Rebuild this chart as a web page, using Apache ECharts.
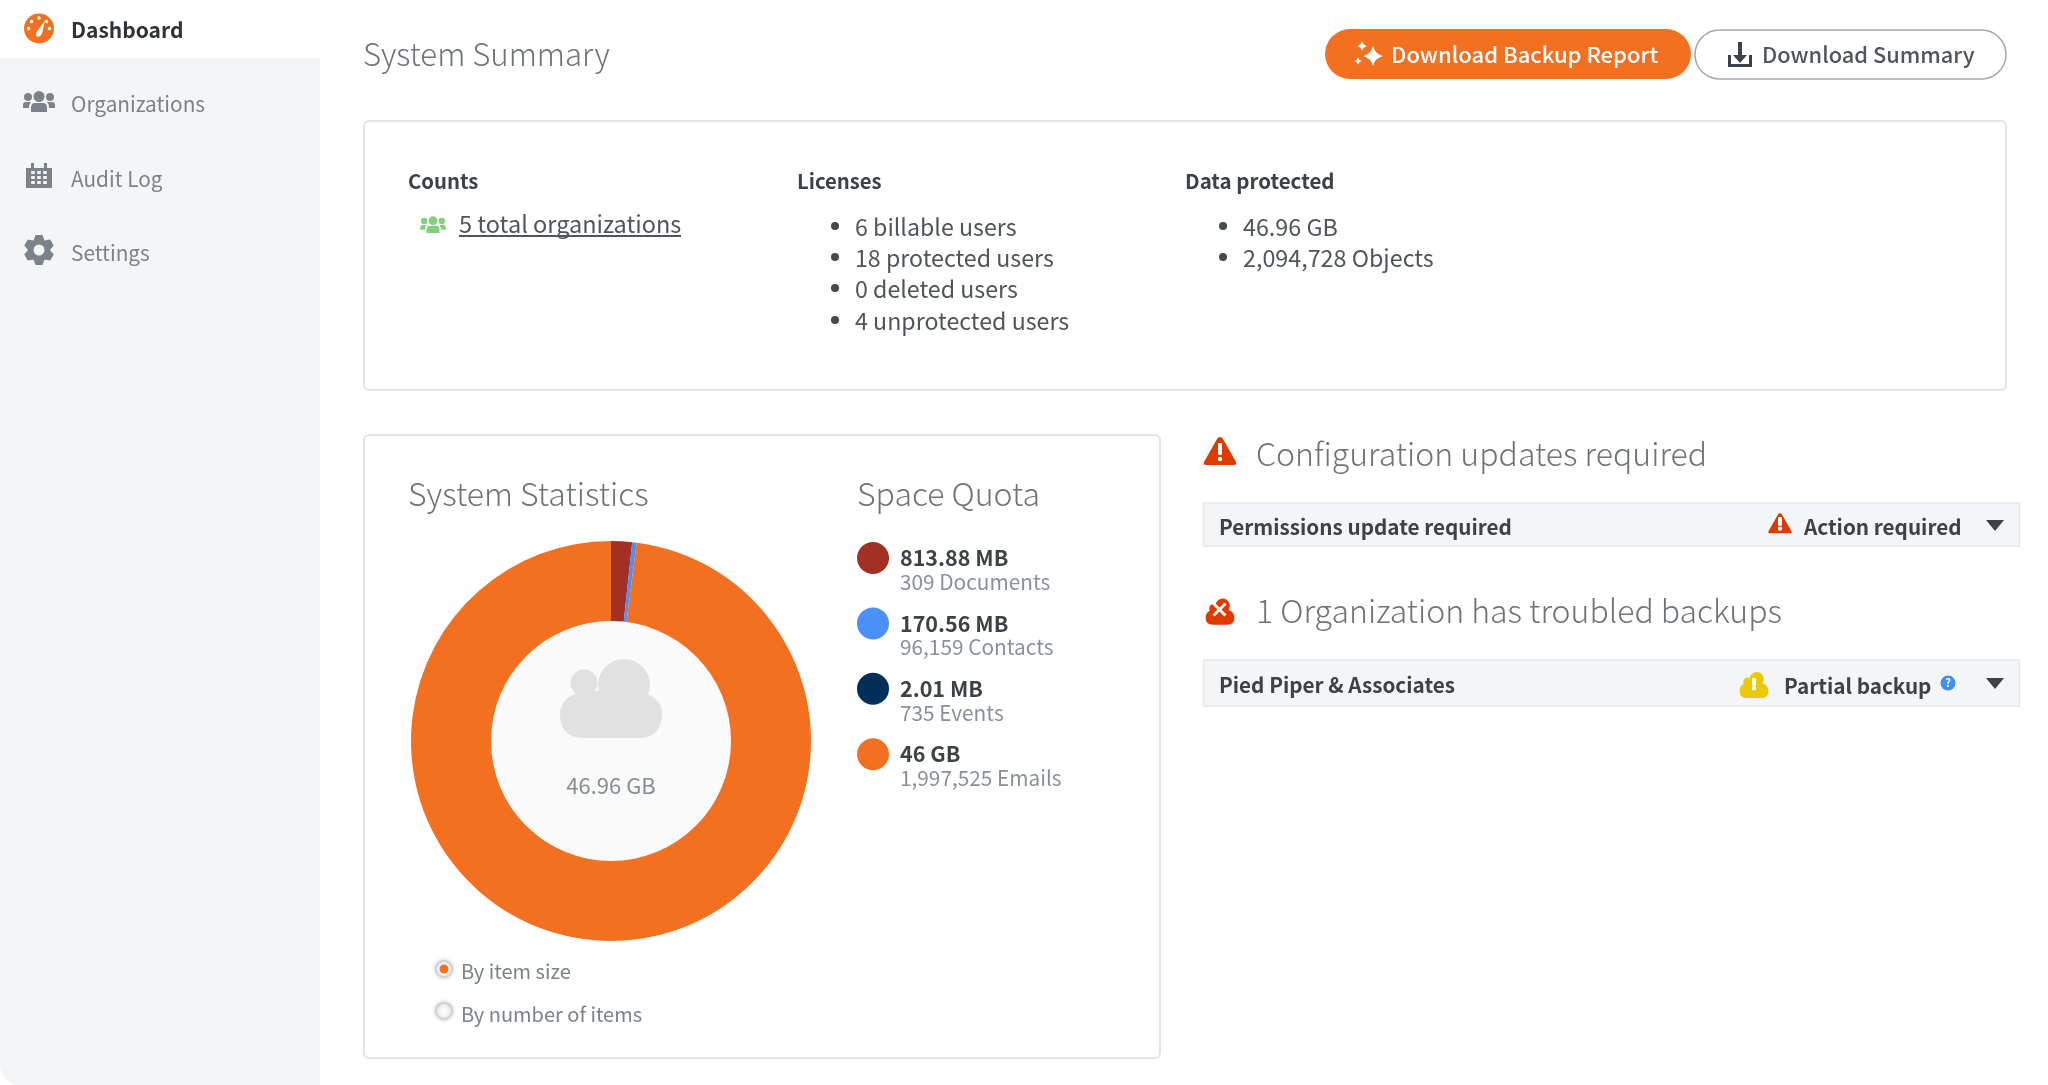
<!DOCTYPE html>
<html>
<head>
<meta charset="utf-8">
<title>System Summary</title>
<script src="https://cdn.jsdelivr.net/npm/echarts@6/dist/echarts.min.js"></script>
<style>
html, body { margin: 0; padding: 0; background: #fff; }
#main { width: 2048px; height: 1085px; }
</style>
</head>
<body>
<div id="main"></div>
<script>
// chart data
var categories = ['Documents', 'Contacts', 'Events', 'Emails'];
var sizeMb = [813.88, 170.56, 2.01, 47104];
var sizeLabels = ['813.88 MB', '170.56 MB', '2.01 MB', '46 GB'];
var countLabels = ['309 Documents', '96,159 Contacts', '735 Events', '1,997,525 Emails'];
var sliceColors = ['#a33024', '#4a90f7', '#00305a', '#f37021'];
var totalLabel = '46.96 GB';

// page text
var navLabels = ['Organizations', 'Audit Log', 'Settings'];
var licenseLines = ['6 billable users', '18 protected users', '0 deleted users', '4 unprotected users'];
var protectedLines = ['46.96 GB', '2,094,728 Objects'];
var radioLabels = ['By item size', 'By number of items'];

var FONT = '"Noto Sans CJK SC", "Noto Sans", sans-serif';
var DARK = '#3d4148';
var GREY = '#7c828a';
var LIGHT = '#6e7378';
var ORANGE = '#f37021';
var RED = '#e03a00';

function circle(cx, cy, r) {
    return 'M' + (cx - r) + ',' + cy + ' a' + r + ',' + r + ' 0 1,1 ' + (2 * r) + ',0 a' + r + ',' + r + ' 0 1,1 ' + (-2 * r) + ',0 Z ';
}

function star(cx, cy, r) {
    var k = r * 0.2;
    return 'M' + cx + ',' + (cy - r)
        + ' Q' + (cx + k) + ',' + (cy - k) + ' ' + (cx + r) + ',' + cy
        + ' Q' + (cx + k) + ',' + (cy + k) + ' ' + cx + ',' + (cy + r)
        + ' Q' + (cx - k) + ',' + (cy + k) + ' ' + (cx - r) + ',' + cy
        + ' Q' + (cx - k) + ',' + (cy - k) + ' ' + cx + ',' + (cy - r) + ' Z ';
}

function text(x, y, str, size, color, weight) {
    return {
        type: 'text', x: x, y: y, z: 5,
        style: {
            text: str, fontSize: size, fontFamily: FONT, fontWeight: weight || 400,
            fill: color, align: 'left', verticalAlign: 'middle'
        }
    };
}

function box(x, y, w, h, r, fill, stroke, lineWidth) {
    return {
        type: 'rect', z: 1,
        shape: { x: x, y: y, width: w, height: h, r: r },
        style: { fill: fill, stroke: stroke || null, lineWidth: lineWidth || 0 }
    };
}

// graphic has no path element, so every icon is registered as its own shape
var iconCount = 0;
function icon(x, y, d, fill, scale) {
    var name = 'pageIcon' + (iconCount++);
    echarts.graphic.registerShape(name, echarts.graphic.extendPath(d, {}));
    return {
        type: name, x: x, y: y, z: 4, scaleX: scale || 1, scaleY: scale || 1,
        style: { fill: fill }
    };
}

function dot(x, y, r, fill, stroke, lineWidth) {
    return {
        type: 'circle', z: 3,
        shape: { cx: x, cy: y, r: r },
        style: { fill: fill, stroke: stroke || null, lineWidth: lineWidth || 0 }
    };
}

var people = circle(0, -5.5, 5.5) + circle(-11, -5, 4) + circle(11, -5, 4)
    + 'M-8,10 L-8,6 Q-8,1 -4,1 H4 Q8,1 8,6 L8,10 Z '
    + 'M-16,6 L-16,3 Q-16,0 -13,0 H-8 Q-10,2 -10,6 Z '
    + 'M8,0 H13 Q16,0 16,3 L16,6 L10,6 Q10,2 8,0 Z';
var calendar = 'M-13,-9 H13 V11 H-13 Z M-8,-14 H-5 V-7 H-8 Z M5,-14 H8 V-7 H5 Z';
var gaugeMarks = circle(0, -10.5, 1.7) + circle(-7.5, -7, 1.7) + circle(7.5, -7, 1.7) + circle(-10.5, 0, 1.7) + circle(10.5, 0, 1.7)
    + 'M6,-8 L3,5 Q1,9 -2,8 Q-4,6 -2,3 Z';
var triangle = 'M0,-15 Q2,-15 3,-13 L16,10 Q17,13 14,13 L-14,13 Q-17,13 -16,10 L-3,-13 Q-2,-15 0,-15 Z';
var cloudIcon = circle(3, -8, 8) + circle(-7, -5, 5) + 'M-8,-4 H8 Q16,-2 16,5 Q16,13 8,13 H-8 Q-16,13 -16,5 Q-16,-2 -8,-4 Z';
var bigCloud = circle(13, -15, 26) + circle(-27, -17, 13.5) + 'M-26,-9 H26 Q51,-4 51,14 Q51,38 26,38 H-26 Q-51,38 -51,14 Q-51,-4 -26,-9 Z';
var crossMark = 'M-7,-5 L-5,-7 L0,-2 L5,-7 L7,-5 L2,0 L7,5 L5,7 L0,2 L-5,7 L-7,5 L-2,0 Z';
var caret = 'M-9,-5 H9 L0,6 Z';
var sparkle = star(5, 2, 10) + star(-6, -8, 5) + star(-10, 7, 3.8);
var download = 'M-2,-13 H2 V0 H7 L0,8 L-7,0 H-2 Z M-12,0 H-9 V9 H9 V0 H12 V12 H-12 Z';

function gearPath() {
    var d = circle(0, 0, 11);
    for (var i = 0; i < 6; i++) {
        var a = i * Math.PI / 3 + Math.PI / 2;
        var c = Math.cos(a), s = Math.sin(a);
        var pts = [[9.5, -5.5], [15, -3.5], [15, 3.5], [9.5, 5.5]];
        d += 'M' + pts.map(function (p) {
            return (p[0] * c - p[1] * s).toFixed(2) + ',' + (p[0] * s + p[1] * c).toFixed(2);
        }).join(' L') + ' Z ';
    }
    return d;
}

function bang(x, y, h, fill) {
    return [
        box(x - 2, y - h, 4, h * 1.1, 1, fill),
        dot(x, y + h * 0.45, 2.2, fill)
    ].map(function (el) { el.z = 6; return el; });
}

function radio(x, y, fill) {
    var el = dot(x, y, 8, fill, '#cfd2d6', 2);
    el.style.shadowBlur = 4;
    el.style.shadowColor = 'rgba(0,0,0,0.2)';
    return el;
}

var elements = [];
function add() {
    for (var i = 0; i < arguments.length; i++) elements = elements.concat(arguments[i]);
}

// sidebar
add(box(0, 58, 320, 1027, [0, 0, 0, 20], '#f4f5f7'));
var gauge = dot(39, 28.5, 15, ORANGE);
gauge.z = 4;
add(gauge);
var marks = icon(39, 28.5, gaugeMarks, '#fff');
marks.z = 5;
add(marks);
add(text(71, 30, 'Dashboard', 21, '#2f3338', 700));
add(icon(39, 102, people, GREY));
add(icon(39, 177, calendar, GREY));
[33, 39, 45].forEach(function (cellX) {
    [172.5, 177.5, 182.5].forEach(function (cellY) {
        var c = box(cellX - 1.8, cellY - 1.5, 3.6, 3, 0, '#f4f5f7');
        c.z = 5;
        add(c);
    });
});
add(icon(39, 250, gearPath(), GREY));
var gearHole = dot(39, 250, 5.5, '#f4f5f7');
gearHole.z = 5;
add(gearHole);
navLabels.forEach(function (label, i) {
    add(text(71, [104.5, 179, 253][i], label, 20.8, GREY, 400));
});

// header
add(text(363, 54, 'System Summary', 31.2, LIGHT, 300));
add(box(1325, 29, 366, 50, 25, ORANGE));
add(icon(1368, 54, sparkle, '#fff'));
add(text(1391, 55, 'Download Backup Report', 22, '#fff', 500));
add(box(1695, 30, 311, 49, 24.5, '#fff', '#a2a7ad', 1.5));
add(icon(1740, 55, download, DARK));
add(text(1762, 55, 'Download Summary', 21.8, '#50555c', 500));

// counts card
add(box(364, 121, 1642, 269, 5, '#fff', '#e2e4e7', 2));
add(text(408, 181, 'Counts', 20.3, DARK, 700));
add(icon(433, 225, people, '#84cf7e', 0.8));
add(text(459, 224, '5 total organizations', 23.5, '#50555c', 400));
add(box(459, 235, 222, 2, 0, '#50555c'));
add(text(797, 181, 'Licenses', 20.3, DARK, 700));
licenseLines.forEach(function (line, i) {
    var y = [227, 258, 289, 321][i];
    add(dot(835, y - 1, 4, '#444950'));
    add(text(855, y, line, 23.2, '#50555c', 400));
});
add(text(1185, 181, 'Data protected', 20.5, DARK, 700));
protectedLines.forEach(function (line, i) {
    var y = [227, 258][i];
    add(dot(1223, y - 1, 4, '#444950'));
    add(text(1243, y, line, 23.3, '#50555c', 400));
});

// statistics card
add(box(364, 435, 796, 623, 5, '#fff', '#e2e4e7', 2));
add(text(408, 494, 'System Statistics', 32, LIGHT, 300));
add(text(857, 494, 'Space Quota', 32, LIGHT, 300));
add(dot(611, 741, 120, '#fafafa'));
add(icon(611, 700, bigCloud, '#e1e1e1'));
var total = text(611, 786, totalLabel, 22, '#868d96', 400);
total.style.align = 'center';
add(total);
radioLabels.forEach(function (label, i) {
    var y = [969, 1011][i];
    add(radio(444, y, i === 0 ? '#fff' : '#fafafa'));
    if (i === 0) {
        var picked = dot(444, y, 4.5, ORANGE);
        picked.z = 4;
        add(picked);
    }
    add(text(461, [971, 1014][i], label, 20, GREY, 400));
});

// right column
add(icon(1220, 452, triangle, RED));
add(bang(1220, 454, 11, '#fff'));
add(text(1256, 454, 'Configuration updates required', 32, LIGHT, 300));
add(box(1203.5, 503, 816, 43, 0, '#f4f5f7', '#e6e8ea', 1.5));
add(text(1219, 527, 'Permissions update required', 20.7, DARK, 600));
add(icon(1780, 524, triangle, RED, 0.72));
add(bang(1780, 525, 8, '#fff'));
add(text(1804, 527, 'Action required', 20.7, DARK, 600));
add(icon(1995, 525, caret, '#3d4148'));

add(icon(1220, 613, cloudIcon, RED, 0.9));
var cross = icon(1219.5, 609.5, crossMark, '#fff');
cross.z = 6;
add(cross);
add(text(1256, 611, '1 Organization has troubled backups', 32, LIGHT, 300));
add(box(1203.5, 660, 816, 46, 0, '#f4f5f7', '#e6e8ea', 1.5));
add(text(1219, 685, 'Pied Piper & Associates', 20.7, DARK, 600));
add(icon(1754, 686.4, cloudIcon, '#eac909', 0.9));
add(bang(1754, 685, 7, '#fff'));
add(text(1784, 686, 'Partial backup', 20.7, DARK, 600));
var info = dot(1948, 683, 7.5, '#3f8ef0');
info.z = 4;
add(info);
var qm = text(1948, 683, '?', 11, '#fff', 700);
qm.style.align = 'center';
add(qm);
add(icon(1995, 683, caret, '#3d4148'));

var chart = echarts.init(document.getElementById('main'));
var option = {
    animation: false,
    backgroundColor: '#fff',
    graphic: { elements: elements },
    legend: {
        show: true,
        orient: 'vertical',
        left: 857,
        top: 528,
        padding: 0,
        itemWidth: 32,
        itemHeight: 32,
        itemGap: 1,
        icon: 'circle',
        selectedMode: false,
        data: categories,
        formatter: function (name) {
            var i = categories.indexOf(name);
            return '{s| }\n{a|' + sizeLabels[i] + '}\n{b|' + countLabels[i] + '}';
        },
        textStyle: {
            fontFamily: FONT,
            rich: {
                s: { fontSize: 12, lineHeight: 24, padding: [0, 0, 0, 6] },
                a: { fontSize: 21.5, fontWeight: 700, fontFamily: FONT, color: DARK, lineHeight: 24, padding: [0, 0, 0, 6] },
                b: { fontSize: 20.8, fontFamily: FONT, color: '#8a9099', lineHeight: 24, padding: [0, 0, 0, 6] }
            }
        }
    },
    series: [{
        name: 'Space Quota',
        type: 'pie',
        center: [611, 741],
        radius: [119, 200],
        startAngle: 90,
        clockwise: true,
        silent: true,
        label: { show: false },
        labelLine: { show: false },
        emphasis: { disabled: true },
        data: categories.map(function (name, i) {
            return { name: name, value: sizeMb[i], itemStyle: { color: sliceColors[i] } };
        })
    }]
};
chart.setOption(option);
</script>
</body>
</html>
